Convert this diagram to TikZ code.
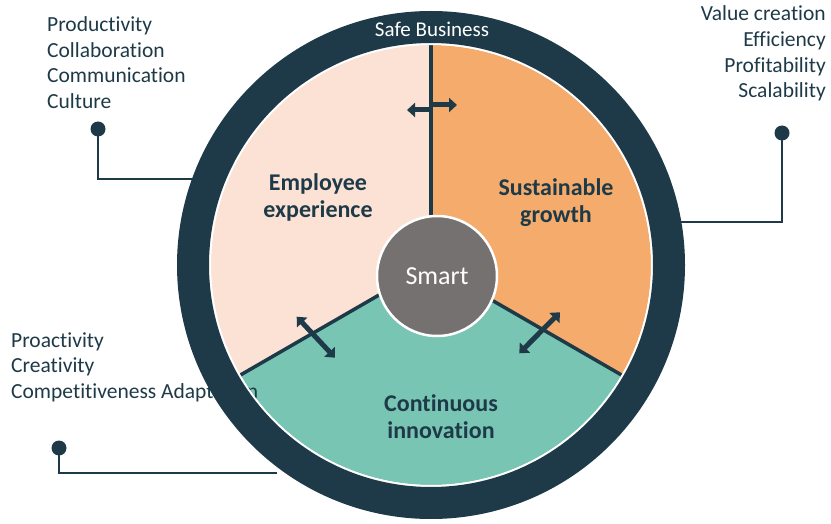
\documentclass[tikz,border=0pt]{standalone}
\usepackage{fontspec}
\setmainfont{Carlito}[Ligatures={NoCommon,NoContextual}]
\usetikzlibrary{arrows.meta}
\definecolor{ringblue}{RGB}{30,58,72}
\definecolor{peach}{RGB}{252,226,212}
\definecolor{apricot}{RGB}{244,171,108}
\definecolor{seagreen}{RGB}{121,197,179}
\definecolor{smartgray}{RGB}{118,113,113}
\newcommand*{\WheelRadius}{220}
\newcommand*{\ListFont}{\fontsize{21.5}{25}\selectfont}
\newcommand*{\ListLines}[2]{% #1 = anchor, #2 = list of name/x/y/text
  \foreach \name/\x/\y/\text in {#2} {
    \node [anchor=#1, inner sep=0pt, text=ringblue, font=\ListFont] (\name) at (\x,\y) {\text};
    }%
}
\newcommand*{\FillSectors}[1]{% #1 = list of start/end/color
  \foreach \a/\b/\tint in {#1} {
    \fill [fill=\tint] (hub) -- ++(\a:\WheelRadius) arc[start angle=\a, end angle=\b, radius=\WheelRadius] -- cycle;
    }%
}

\begin{document}
\begin{tikzpicture}[x=1pt, y=1pt,
    callout/.style={draw=ringblue, line width=2.5pt},
    dot/.style={circle, fill=ringblue, inner sep=0pt, minimum size=15pt},
    divider/.style={draw=ringblue, line width=3.5pt},
    twoway/.style={draw=ringblue, line width=5pt, -{Triangle[width=14pt, length=8pt]}},
    segment/.style={text=ringblue, font=\fontsize{24}{27}\selectfont\bfseries, align=center}]
    \useasboundingbox (0,0) rectangle (831,523);
    \coordinate (hub) at (431,258);

    % wheel
    \FillSectors{
        90/210/peach,
        -30/90/apricot,
        210/330/seagreen}
    \foreach \a in {90,210,330}
        \draw [divider] (hub) -- ++(\a:\WheelRadius);

    % keyword lists
    \ListLines{base west}{
        prod/47/491/Productivity,
        coll/47/465.5/Collaboration,
        comm/47/440/Communication,
        cult/47/414.5/Culture}
    \ListLines{base east}{
        value/826/502.3/Value creation,
        effi/826/476.3/Efficiency,
        prof/826/450.3/Profitability,
        scal/826/425/Scalability}
    \ListLines{base west}{
        proa/11/175.7/Proactivity,
        crea/11/150.7/Creativity,
        compe/11/124.7/Competitiveness Adaptation}

    % callouts
    \node [dot] (dotL) at (98,394) {};
    \node [dot] (dotR) at (782,390) {};
    \node [dot] (dotB) at (59,75) {};
    \coordinate (endL) at (200,344);
    \coordinate (endR) at (681,301);
    \coordinate (endB) at (277,50);
    \draw [callout] (dotL.center) |- (endL);
    \draw [callout] (dotR.center) |- (endR);
    \draw [callout] (dotB.center) |- (endB);

    % ring
    \fill [white, even odd rule] (hub) circle[radius=222] circle[radius=\WheelRadius];
    \fill [ringblue, even odd rule] (hub) circle[radius=254] circle[radius=222];

    % arrows across the dividers
    \coordinate (topL) at (431,413);
    \coordinate (tipL) at (407,413);
    \coordinate (topR) at (431,418);
    \coordinate (tipR) at (457,418);
    \draw [twoway] (topL) -- (tipL);
    \draw [twoway] (topR) -- (tipR);
    \coordinate (leftA) at (296.7,206.3);
    \coordinate (leftB) at (335,165.3);
    \coordinate (rightA) at (560,210.7);
    \coordinate (rightB) at (519.3,169.7);
    \draw [twoway, {Triangle[width=14pt, length=8pt]}-{Triangle[width=14pt, length=8pt]}] (leftA) -- (leftB);
    \draw [twoway, {Triangle[width=14pt, length=8pt]}-{Triangle[width=14pt, length=8pt]}] (rightA) -- (rightB);

    % hub and labels
    \node [circle, fill=smartgray, draw=white, line width=2.5pt, minimum size=120pt,
        text=white, font=\fontsize{26}{30}\selectfont] (smart) at (437,247) {Smart};
    \node [text=white, font=\fontsize{21}{25}\selectfont] (safe) at (432,494) {Safe Business};
    \node [segment] (employee) at (318,326) {Employee\\experience};
    \node [segment] (growth) at (556,320) {Sustainable\\growth};
    \node [segment] (innovation) at (441,106) {Continuous\\innovation};
\end{tikzpicture}
\end{document}
